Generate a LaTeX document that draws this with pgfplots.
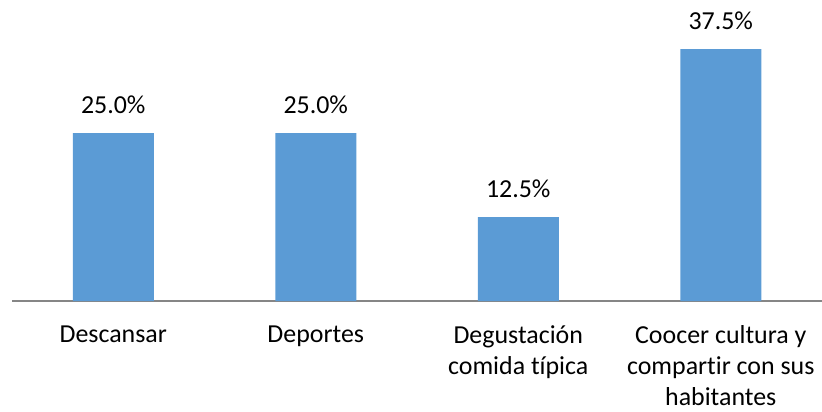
\documentclass[border=0pt]{standalone}
\usepackage{pgfplots}
\pgfplotsset{compat=1.18}
\usepackage{fontspec}
\setmainfont{Carlito}[Ligatures={NoCommon}]
\definecolor{barblue}{HTML}{5B9BD5}
\definecolor{axgray}{HTML}{868686}
\begin{document}
\begin{tikzpicture}
\begin{axis}[
  scale only axis, width=810bp, height=301bp,
  xmin=-0.5, xmax=3.5, ymin=0, ymax=44.8,
  axis x line*=bottom, hide y axis,
  x axis line style={draw=axgray, line width=1.4bp},
  xtick=data, major tick length=0pt,
  xticklabels={Descansar, Deportes, {Degustación\\comida típica}, {Coocer cultura y\\compartir con sus\\habitantes}},
  xticklabel style={font=\fontsize{26}{31}\selectfont, align=center, anchor=north, yshift=-21bp},
  ybar, bar width=81bp,
  /pgf/number format/assume math mode=true,
  nodes near coords={\pgfmathprintnumber[fixed,fixed zerofill,precision=1,assume math mode=true]{\pgfplotspointmeta}\%},
  nodes near coords style={font=\fontsize{26}{30}\selectfont, anchor=south, yshift=16bp},
  clip=false,
]
\addplot[fill=barblue, draw=none] coordinates {(0,25.0) (1,25.0) (2,12.5) (3,37.5)};
\end{axis}
\pgfresetboundingbox
\path ([xshift=-12bp,yshift=-111bp]current axis.south west) rectangle (current axis.north east);
\end{tikzpicture}
\end{document}
